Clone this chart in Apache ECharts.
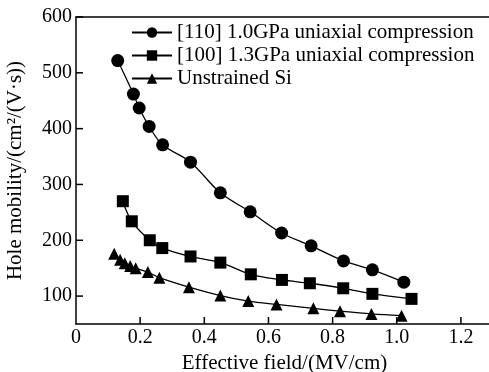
<!DOCTYPE html>
<html><head><meta charset="utf-8">
<script src="https://cdn.jsdelivr.net/npm/echarts@6/dist/echarts.min.js"></script>
<style>html,body{margin:0;padding:0;background:#fff}#c{width:489px;height:372px}</style>
</head><body><div id="c"></div>
<script>
const seriesNames = ['[110] 1.0GPa uniaxial compression', '[100] 1.3GPa uniaxial compression', 'Unstrained Si'];
const x110 = [0.13, 0.179, 0.197, 0.228, 0.27, 0.357, 0.45, 0.543, 0.641, 0.733, 0.834, 0.924, 1.022];
const y110 = [522, 462, 437, 404, 371, 340, 285, 251, 213, 190, 163, 147, 125];
const x100 = [0.146, 0.174, 0.23, 0.269, 0.357, 0.45, 0.545, 0.642, 0.729, 0.833, 0.924, 1.046];
const y100 = [270, 234, 200, 186, 171, 160, 139, 129, 123, 114, 104, 95];
const xUn = [0.119, 0.1375, 0.152, 0.169, 0.186, 0.224, 0.26, 0.352, 0.45, 0.537, 0.625, 0.74, 0.823, 0.921, 1.015];
const yUn = [176, 165, 159, 154, 150, 143, 133, 116, 101, 91, 85, 78, 73, 68, 65];
const xTicks = [0, 0.2, 0.4, 0.6, 0.8, 1.0, 1.2];
const yTicks = [100, 200, 300, 400, 500, 600];

const XMIN = 0, XMAX = 1.3, YMIN = 50, YMAX = 600;
const font = 'Liberation Serif';
const zip = (a, b) => a.map((v, i) => [v, b[i]]);
const mk = (name, xs, ys, sym, size) => ({
  name, type: 'line', data: zip(xs, ys), smooth: 0.35,
  symbol: sym, symbolSize: size, showSymbol: true,
  lineStyle: { color: '#000', width: 1.3 }, itemStyle: { color: '#000' },
  emphasis: { disabled: true }
});
const tickSeries = (data, dx, dy) => ({
  type: 'custom', coordinateSystem: 'cartesian2d',
  silent: true, clip: false, data, z: 10,
  renderItem: (params, api) => {
    const p = api.coord([api.value(0), api.value(1)]);
    return { type: 'rect', shape: { x: dx ? p[0] : p[0] - 0.75, y: dx ? p[1] - 0.75 : p[1] - 7, width: dx ? 7 : 1.5, height: dx ? 1.5 : 7 },
      style: { fill: '#000' } };
  }
});
const chart = echarts.init(document.getElementById('c'));
chart.setOption({
  animation: false,
  grid: { left: 76, top: 17, right: -4, bottom: 48, show: false, containLabel: false, outerBoundsMode: 'none' },
  legend: {
    left: 126, top: 17, orient: 'vertical', itemWidth: 40, itemHeight: 13, itemGap: 2,
    textStyle: { fontFamily: font, fontSize: 21, color: '#000' },
    data: seriesNames
  },
  xAxis: [{
    type: 'value', min: XMIN, max: XMAX, interval: 0.2,
    name: 'Effective field/(MV/cm)', nameLocation: 'middle', nameGap: 29,
    nameTextStyle: { fontFamily: font, fontSize: 21, color: '#000' },
    axisLine: { show: true, lineStyle: { color: '#000', width: 1.5 } },
    axisTick: { show: false },
    axisLabel: { fontFamily: font, fontSize: 20, color: '#000', margin: 4,
      formatter: v => xTicks.some(t => Math.abs(t - v) < 1e-6) ? (v === 0 ? '0' : v.toFixed(1)) : '' },
    splitLine: { show: false }
  }, {
    type: 'value', min: XMIN, max: XMAX, position: 'top',
    axisLine: { show: true, lineStyle: { color: '#000', width: 1.5 } },
    axisTick: { show: false }, axisLabel: { show: false }, splitLine: { show: false }
  }],
  yAxis: {
    type: 'value', min: YMIN, max: YMAX, interval: 50,
    name: 'Hole mobility/(cm²/(V·s))', nameLocation: 'middle', nameGap: 50,
    nameTextStyle: { fontFamily: font, fontSize: 21, color: '#000' },
    axisLine: { show: true, lineStyle: { color: '#000', width: 1.5 } },
    axisTick: { show: false },
    axisLabel: { fontFamily: font, fontSize: 20, color: '#000', margin: 4,
      formatter: v => yTicks.includes(v) ? String(v) : '' },
    splitLine: { show: false }
  },
  series: [
    mk(seriesNames[0], x110, y110, 'circle', 13),
    mk(seriesNames[1], x100, y100, 'rect', 12),
    mk(seriesNames[2], xUn, yUn, 'triangle', 12),
    tickSeries(xTicks.filter(v => v > 0).map(v => [v, YMIN]), 0, -7),
    tickSeries(yTicks.map(v => [XMIN, v]), 7, 0)
  ]
});
</script></body></html>
